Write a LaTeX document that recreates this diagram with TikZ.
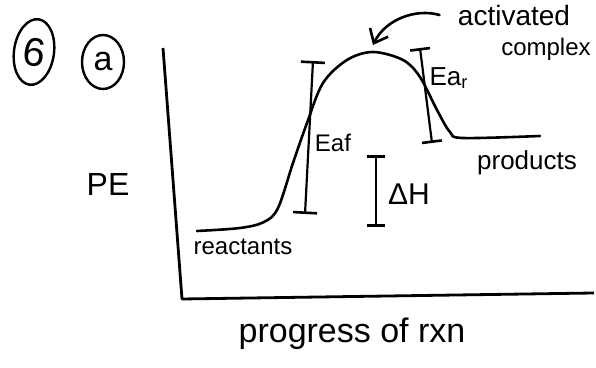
\documentclass[tikz,border=0pt]{standalone}
\usepackage{fontspec}
\setmainfont{Liberation Sans}
\usetikzlibrary{arrows.meta,shapes.geometric}
\tikzset{
  ink/.style={line width=1.3pt,line cap=round,line join=round},
  axis/.style={line width=1.4pt,line join=round},
  ebar/.style={line width=1.1pt,
               {Bar[width=#1,line width=1.3pt]}-{Bar[width=#1,line width=1.3pt]}},
  hand/.style={inner sep=0pt},
  ring/.style={draw,ellipse,line width=1.2pt,inner sep=0pt},
}
\newcommand{\fs}[1]{\fontsize{#1}{#1}\selectfont}

\begin{document}
\begin{tikzpicture}[x=0.5pt,y=-0.5pt]
  \useasboundingbox (0,0) rectangle (596,368);
  % question number
  \node[ring,minimum width=20pt,minimum height=33pt,rotate=-8] (qnum) at (34,52){\fs{20}6};
  \node[ring,minimum width=21pt,minimum height=27pt] (qpart) at (103,62){\fs{17}a};
  % axes
  \coordinate (ytop) at (163,48);
  \coordinate (orig) at (182,299);
  \coordinate (xend) at (594,293);
  \draw[axis] (ytop) -- (orig) -- (xend);
  \node[hand] (pe) at (108,184){\fs{16}PE};
  \node[hand] (prog) at (352,334){\fs{17}progress of rxn};
  % energy curve
  \draw[ink] plot[smooth,tension=0.55] coordinates {(197,231) (240,228) (264,222)
      (278,208) (293,163) (307,123) (323,83) (347,60) (373,52) (403,60) (420,77)
      (437,110) (450,132) (463,138) (540,136)};
  \coordinate (peak) at (373,45);
  \node[hand] (react) at (243,247){\fs{12}reactants};
  \node[hand] (prod) at (527,163){\fs{13}products};
  % energy bars
  \coordinate (eaftop) at (313,61);
  \coordinate (eafbot) at (305,214);
  \coordinate (eartop) at (420,48);
  \coordinate (earbot) at (432,143);
  \coordinate (dhtop) at (376,155);
  \coordinate (dhbot) at (376,227);
  \draw[ebar=12pt] (eaftop) -- (eafbot);
  \draw[ebar=10pt] (eartop) -- (earbot);
  \draw[ebar=9pt] (dhtop) -- (dhbot);
  \node[hand] (eaf) at (333,143){\fs{12}Eaf};
  \node[hand] (ear) at (449,78){\fs{13}Ea\textsubscript{r}};
  \node[hand] (dh) at (409,194){\fs{15}ΔH};
  % activated complex
  \node[hand] (actv) at (514,15){\fs{14}activated};
  \node[hand] (cplx) at (546,49){\fs{12}complex};
  \draw[ink,-{Straight Barb[length=6pt,width=10pt]}] ([xshift=-9pt]actv.west)
      .. controls (415,8) and (385,20) .. (peak);
\end{tikzpicture}
\end{document}
